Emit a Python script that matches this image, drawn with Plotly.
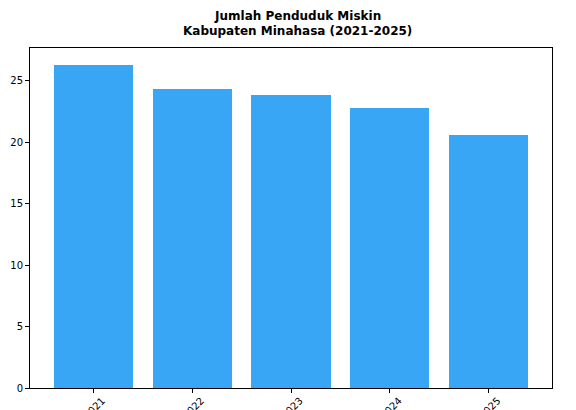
import plotly.graph_objects as go

years = ["2021", "2022", "2023", "2024", "2025"]
penduduk_miskin = [26.3, 24.35, 23.86, 22.8, 20.6]
y_ticks = [0, 5, 10, 15, 20, 25]
title_lines = ["Jumlah Penduduk Miskin", "Kabupaten Minahasa (2021-2025)"]

fig = go.Figure(
    go.Bar(
        x=list(range(len(years))),
        y=penduduk_miskin,
        width=0.8,
        marker=dict(color="#39A6F5", line=dict(width=0)),
    )
)

# page body has an 8px margin, so the figure is sized/positioned to compensate
fig.update_layout(
    width=568,
    height=402,
    paper_bgcolor="white",
    plot_bgcolor="white",
    margin=dict(l=22, r=24, t=40, b=22),
    font=dict(family="DejaVu Sans", size=10, color="black"),
    showlegend=False,
    bargap=0,
)

fig.add_annotation(
    text="<b>" + title_lines[0] + "</b>",
    xref="paper", yref="paper",
    x=0.5125, y=1, yshift=32,
    xanchor="center", yanchor="middle",
    showarrow=False,
    font=dict(family="DejaVu Sans", size=12, color="black"),
)
fig.add_annotation(
    text="<b>" + title_lines[1] + "</b>",
    xref="paper", yref="paper",
    x=0.5125, y=1, yshift=17,
    xanchor="center", yanchor="middle",
    showarrow=False,
    font=dict(family="DejaVu Sans", size=12, color="black"),
)

fig.update_xaxes(
    range=[-0.64, 4.64],
    tickmode="array",
    tickvals=list(range(len(years))),
    ticktext=years,
    tickangle=-45,
    ticklabelshift=9,
    ticklabelstandoff=-2,
    ticks="outside",
    ticklen=4,
    tickcolor="black",
    showline=True,
    linecolor="black",
    linewidth=1,
    mirror=True,
    showgrid=False,
    zeroline=False,
    automargin=False,
)

fig.update_yaxes(
    range=[0, 27.65],
    tickmode="array",
    tickvals=y_ticks,
    ticks="outside",
    ticklen=4,
    tickcolor="black",
    showline=True,
    linecolor="black",
    linewidth=1,
    mirror=True,
    showgrid=False,
    zeroline=False,
    automargin=False,
)

fig.write_html("out.html")
